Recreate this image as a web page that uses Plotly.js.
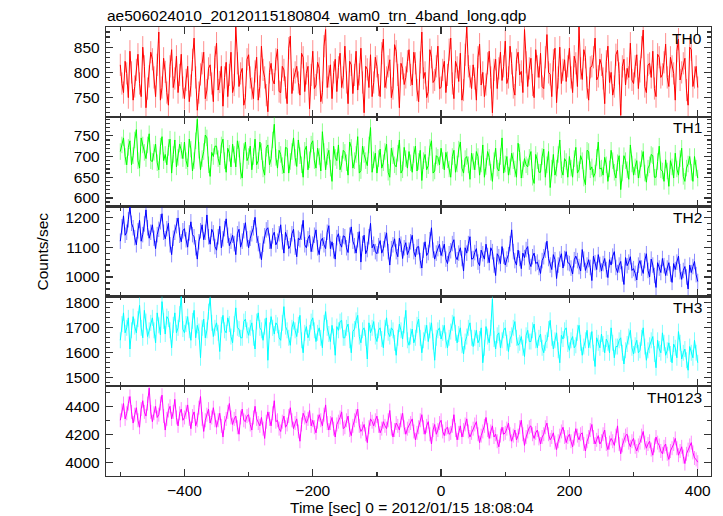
<!DOCTYPE html>
<html>
<head>
<meta charset="utf-8">
<script src="https://cdn.plot.ly/plotly-3.0.1.min.js"></script>
<style>html,body{margin:0;padding:0;background:#fff;}#chart{width:723px;height:516px;}</style>
</head>
<body>
<div id="chart"></div>
<script>
// Time [sec] relative to 2012/01/15 18:08:04 — bins on whole 5 s marks
const timeSec = [
-500,-495,-490,-485,-480,-475,-470,-465,-460,-455,
-450,-445,-440,-435,-430,-425,-420,-415,-410,-405,
-400,-395,-390,-385,-380,-375,-370,-365,-360,-355,
-350,-345,-340,-335,-330,-325,-320,-315,-310,-305,
-300,-295,-290,-285,-280,-275,-270,-265,-260,-255,
-250,-245,-240,-235,-230,-225,-220,-215,-210,-205,
-200,-195,-190,-185,-180,-175,-170,-165,-160,-155,
-150,-145,-140,-135,-130,-125,-120,-115,-110,-105,
-100,-95,-90,-85,-80,-75,-70,-65,-60,-55,
-50,-45,-40,-35,-30,-25,-20,-15,-10,-5,
0,5,10,15,20,25,30,35,40,45,
50,55,60,65,70,75,80,85,90,95,
100,105,110,115,120,125,130,135,140,145,
150,155,160,165,170,175,180,185,190,195,
200,205,210,215,220,225,230,235,240,245,
250,255,260,265,270,275,280,285,290,295,
300,305,310,315,320,325,330,335,340,345,
350,355,360,365,370,375,380,385,390,395,
400];
// bins half-way between them
const timeHalf = [
-497.5,-492.5,-487.5,-482.5,-477.5,-472.5,-467.5,-462.5,-457.5,-452.5,
-447.5,-442.5,-437.5,-432.5,-427.5,-422.5,-417.5,-412.5,-407.5,-402.5,
-397.5,-392.5,-387.5,-382.5,-377.5,-372.5,-367.5,-362.5,-357.5,-352.5,
-347.5,-342.5,-337.5,-332.5,-327.5,-322.5,-317.5,-312.5,-307.5,-302.5,
-297.5,-292.5,-287.5,-282.5,-277.5,-272.5,-267.5,-262.5,-257.5,-252.5,
-247.5,-242.5,-237.5,-232.5,-227.5,-222.5,-217.5,-212.5,-207.5,-202.5,
-197.5,-192.5,-187.5,-182.5,-177.5,-172.5,-167.5,-162.5,-157.5,-152.5,
-147.5,-142.5,-137.5,-132.5,-127.5,-122.5,-117.5,-112.5,-107.5,-102.5,
-97.5,-92.5,-87.5,-82.5,-77.5,-72.5,-67.5,-62.5,-57.5,-52.5,
-47.5,-42.5,-37.5,-32.5,-27.5,-22.5,-17.5,-12.5,-7.5,-2.5,
2.5,7.5,12.5,17.5,22.5,27.5,32.5,37.5,42.5,47.5,
52.5,57.5,62.5,67.5,72.5,77.5,82.5,87.5,92.5,97.5,
102.5,107.5,112.5,117.5,122.5,127.5,132.5,137.5,142.5,147.5,
152.5,157.5,162.5,167.5,172.5,177.5,182.5,187.5,192.5,197.5,
202.5,207.5,212.5,217.5,222.5,227.5,232.5,237.5,242.5,247.5,
252.5,257.5,262.5,267.5,272.5,277.5,282.5,287.5,292.5,297.5,
302.5,307.5,312.5,317.5,322.5,327.5,332.5,337.5,342.5,347.5,
352.5,357.5,362.5,367.5,372.5,377.5,382.5,387.5,392.5,397.5];

const th0 = [
815,760,798,842,745,805,778,850,730,792,
826,752,880,770,801,735,845,788,760,836,
748,812,774,868,725,796,840,765,815,742,
858,781,733,820,795,760,890,772,808,750,
835,768,802,745,852,790,722,818,777,846,
760,805,738,872,786,812,755,830,798,728,
842,775,808,760,885,792,748,826,810,770,
852,738,815,795,765,848,720,806,835,780,
812,752,866,790,825,768,842,730,808,790,
845,775,818,742,880,800,762,830,785,852,
770,822,795,868,748,810,838,765,890,792,
815,745,856,800,776,842,720,826,808,784,
862,790,818,755,840,802,885,772,828,750,
812,838,768,875,796,824,740,850,805,782,
848,760,818,890,786,830,745,812,868,792,
815,738,852,800,772,844,715,826,808,858,
778,835,802,884,760,818,842,752,830,796,
856,772,812,745,866,800,828,735,845,790,
770];
const th0Half = [
778,822,750,800,772,836,752,812,768,840,
790,815,745,828,760,812,770,832,795,770,
785,742,825,790,760,818,748,808,778,830,
765,812,790,752,840,775,818,798,735,826,
790,748,830,772,805,755,800,785,826,762,
812,770,848,758,800,780,838,762,812,795,
768,820,742,852,770,815,800,762,838,790,
780,822,758,842,796,780,812,770,752,830,
775,838,770,812,750,855,795,818,776,822,
795,840,765,820,788,750,845,780,812,768,
805,760,845,778,822,782,745,835,812,768,
788,830,775,752,818,790,805,768,840,812,
778,852,770,825,795,760,820,808,775,845,
790,772,830,800,752,848,790,778,825,812,
790,832,772,808,845,770,810,830,785,826,
788,822,780,755,835,798,812,775,790,785,
812,768,850,772,815,790,768,836,790,820,
790,830,798,842,785,818,765,850,772,812];

const th1 = [
712,745,680,738,702,765,672,728,695,755,
688,730,668,748,705,722,660,740,698,715,
735,675,718,690,790,668,712,745,652,700,
725,680,742,662,708,730,675,718,648,735,
700,668,742,690,712,655,728,695,778,672,
705,660,720,688,745,676,702,650,725,692,
738,672,700,760,668,715,640,698,728,682,
710,655,722,690,748,666,705,678,770,692,
660,718,685,730,650,702,675,740,668,695,
712,662,725,688,642,705,678,738,665,698,
720,668,692,650,715,682,735,660,700,645,
688,712,655,728,676,698,640,720,665,745,
682,655,708,670,732,648,695,675,712,635,
690,662,718,680,625,705,672,740,655,688,
700,650,722,668,690,632,712,675,660,735,
672,698,640,715,662,685,620,702,668,728,
655,690,668,712,638,680,702,650,725,665,
692,628,675,708,655,720,640,682,662,700,
648];
const th1Half = [
728,700,722,680,740,690,745,710,728,690,
710,685,725,690,680,742,705,675,730,695,
690,742,665,738,715,695,752,680,710,725,
695,728,690,720,675,705,738,665,712,690,
725,700,680,735,670,720,680,740,698,715,
678,722,660,712,698,740,680,715,668,730,
690,720,665,712,700,672,725,690,668,715,
685,735,672,705,660,725,690,728,662,708,
695,672,712,662,720,680,708,660,722,672,
685,705,665,715,690,668,722,660,702,680,
690,710,670,700,662,718,672,695,680,708,
668,700,682,650,712,662,690,672,700,660,
700,675,690,650,710,668,680,698,650,705,
662,700,650,712,672,655,705,668,695,650,
672,695,660,702,648,715,668,650,698,670,
655,680,670,690,648,702,660,690,645,682,
675,648,695,660,672,705,650,688,668,640,
665,690,648,670,695,652,672,700,640,672];

const th2 = [
1120,1205,1150,1236,1165,1108,1190,1142,1225,1130,
1175,1095,1160,1212,1128,1180,1075,1150,1198,1118,
1162,1100,1185,1135,1060,1155,1125,1208,1110,1148,
1090,1170,1128,1195,1105,1140,1075,1160,1120,1182,
1098,1145,1200,1112,1058,1138,1165,1095,1150,1120,
1175,1080,1132,1105,1160,1068,1125,1190,1098,1140,
1110,1158,1075,1130,1095,1172,1118,1060,1145,1100,
1135,1082,1168,1105,1125,1050,1140,1092,1180,1110,
1078,1122,1095,1148,1040,1108,1085,1130,1062,1115,
1090,1140,1068,1102,1030,1118,1082,1165,1060,1095,
1072,1110,1045,1088,1125,1058,1098,1020,1080,1135,
1062,1095,1038,1078,1110,1048,1085,1005,1068,1102,
1040,1075,1158,1055,1090,1028,1065,1102,1035,1080,
1050,1012,1068,1120,1040,1075,995,1060,1030,1085,
1045,1010,1070,1035,1092,1022,1058,988,1048,1075,
1020,1062,998,1040,1085,1015,1052,975,1038,1068,
1028,990,1055,1012,1078,1000,1040,965,1030,1062,
1005,1048,982,1025,1070,992,1035,960,1015,1052,
985];
const th2Half = [
1168,1140,1192,1180,1132,1155,1120,1178,1165,1150,
1130,1142,1185,1150,1162,1108,1130,1172,1140,1155,
1125,1148,1142,1098,1118,1175,1150,1135,1160,1102,
1135,1098,1162,1140,1120,1112,1145,1100,1155,1128,
1130,1165,1140,1088,1110,1158,1120,1138,1108,1145,
1118,1150,1095,1145,1100,1130,1150,1108,1128,1085,
1140,1098,1120,1108,1150,1095,1088,1132,1112,1138,
1098,1140,1120,1080,1152,1112,1078,1135,1098,1085,
1105,1080,1125,1085,1095,1128,1068,1110,1098,1075,
1118,1085,1100,1055,1090,1072,1125,1090,1080,1110,
1095,1060,1078,1112,1070,1080,1062,1098,1112,1060,
1082,1050,1090,1060,1072,1098,1040,1078,1045,1070,
1060,1112,1085,1040,1062,1080,1092,1050,1068,1045,
1032,1055,1090,1062,1025,1058,1040,1078,1062,1048,
1030,1058,1055,1020,1060,1040,1032,1070,1025,1042,
1045,1025,1058,1070,1032,1040,1010,1065,1050,1022,
1012,1040,1030,1055,1022,1060,1005,1048,1015,1038,
1030,1010,1045,1050,1018,1022,1000,1040,1035,1008];

const th3 = [
1650,1760,1700,1615,1745,1680,1790,1660,1725,1690,
1740,1640,1710,1805,1675,1735,1620,1760,1700,1826,
1680,1745,1650,1770,1710,1580,1735,1690,1820,1665,
1720,1605,1750,1680,1715,1640,1780,1695,1660,1735,
1670,1720,1615,1760,1690,1705,1570,1745,1675,1710,
1650,1785,1690,1630,1725,1665,1750,1600,1705,1680,
1740,1645,1700,1620,1765,1675,1710,1590,1690,1730,
1660,1715,1600,1695,1750,1640,1700,1575,1680,1725,
1645,1700,1620,1740,1665,1690,1590,1715,1655,1770,
1630,1695,1660,1735,1600,1680,1645,1720,1570,1690,
1655,1710,1620,1685,1745,1640,1700,1595,1665,1720,
1625,1690,1655,1560,1705,1640,1815,1615,1680,1650,
1700,1605,1670,1725,1630,1665,1585,1690,1645,1715,
1620,1675,1600,1650,1730,1615,1680,1560,1655,1700,
1610,1665,1630,1710,1590,1650,1620,1685,1545,1640,
1675,1600,1640,1700,1580,1625,1660,1555,1635,1690,
1595,1650,1610,1700,1570,1630,1665,1540,1615,1680,
1590,1640,1560,1620,1685,1575,1615,1530,1600,1650,
1560];
const th3Half = [
1715,1680,1740,1690,1705,1735,1700,1770,1665,1720,
1690,1760,1672,1728,1745,1690,1712,1680,1755,1695,
1715,1690,1728,1660,1685,1700,1660,1765,1720,1700,
1680,1712,1690,1740,1665,1715,1700,1660,1725,1690,
1700,1660,1725,1700,1650,1740,1690,1700,1720,1660,
1720,1705,1660,1700,1690,1712,1650,1680,1660,1725,
1690,1680,1660,1720,1700,1645,1665,1705,1725,1660,
1700,1650,1685,1730,1665,1690,1660,1720,1700,1665,
1690,1655,1700,1680,1700,1640,1660,1690,1710,1650,
1665,1640,1712,1660,1650,1710,1690,1645,1660,1700,
1680,1650,1660,1720,1680,1675,1630,1645,1700,1660,
1660,1640,1700,1620,1665,1700,1655,1670,1620,1690,
1640,1655,1700,1660,1640,1620,1670,1645,1690,1650,
1660,1620,1640,1695,1660,1650,1610,1670,1690,1635,
1650,1620,1680,1640,1625,1690,1650,1600,1660,1620,
1635,1655,1600,1640,1625,1650,1600,1610,1665,1620,
1630,1600,1660,1625,1610,1650,1595,1650,1600,1640,
1610,1595,1635,1580,1640,1600,1570,1625,1580,1600];

const th0123 = [
4300,4420,4350,4470,4280,4390,4250,4440,4330,4530,
4290,4400,4340,4480,4230,4370,4310,4450,4260,4380,
4320,4410,4240,4360,4300,4470,4220,4340,4280,4390,
4250,4350,4180,4310,4420,4270,4330,4200,4380,4290,
4340,4230,4400,4280,4320,4170,4360,4260,4440,4300,
4220,4330,4270,4390,4240,4310,4150,4350,4280,4370,
4300,4210,4340,4260,4410,4230,4320,4180,4290,4360,
4250,4330,4190,4300,4380,4220,4270,4140,4310,4260,
4330,4210,4290,4240,4370,4180,4280,4230,4350,4200,
4260,4310,4160,4250,4340,4200,4290,4130,4270,4230,
4300,4190,4250,4210,4340,4160,4260,4230,4310,4180,
4240,4290,4140,4220,4320,4170,4260,4200,4110,4250,
4210,4280,4150,4230,4190,4300,4120,4220,4260,4170,
4230,4130,4200,4280,4160,4210,4090,4190,4250,4140,
4200,4110,4240,4160,4210,4080,4180,4270,4130,4190,
4150,4230,4090,4170,4120,4260,4060,4160,4200,4110,
4170,4080,4140,4220,4100,4150,4050,4180,4120,4060,
4130,4020,4100,4170,4050,4110,3990,4090,4140,4030,
4000];
const th0123Half = [
4370,4310,4420,4360,4340,4300,4380,4360,4420,4360,
4350,4320,4420,4330,4310,4400,4360,4320,4350,4300,
4360,4310,4330,4260,4390,4310,4300,4380,4320,4300,
4300,4260,4280,4360,4320,4310,4250,4320,4300,4330,
4270,4320,4310,4260,4240,4290,4310,4350,4290,4240,
4290,4250,4330,4300,4280,4220,4270,4320,4310,4260,
4250,4290,4300,4340,4280,4280,4240,4270,4320,4240,
4300,4230,4260,4330,4260,4240,4200,4250,4290,4300,
4260,4240,4260,4300,4240,4230,4260,4300,4250,4240,
4280,4220,4210,4300,4250,4260,4200,4230,4200,4280,
4220,4240,4200,4260,4230,4210,4180,4270,4220,4210,
4270,4200,4190,4260,4230,4220,4180,4150,4190,4200,
4240,4200,4190,4160,4250,4200,4180,4250,4200,4210,
4170,4180,4250,4200,4180,4140,4150,4220,4180,4180,
4150,4170,4190,4200,4130,4150,4230,4180,4160,4130,
4200,4130,4140,4150,4190,4130,4120,4190,4140,4150,
4110,4120,4190,4140,4130,4090,4120,4140,4080,4110,
4060,4080,4130,4100,4080,4040,4060,4120,4070,4020];

const bandNames = ["TH0", "TH1", "TH2", "TH3", "TH0123"];
const bandSeries = [th0, th1, th2, th3, th0123];
const bandHalfSeries = [th0Half, th1Half, th2Half, th3Half, th0123Half];
const bandErrors = [22, 20, 26, 32, 50];   // 1-sigma error bar per bin (counts/sec)
const bandColors = ["#ff0000", "#00ff00", "#0000ff", "#00ffff", "#ff00ff"];
const bandErrColors = ["rgba(255,0,0,0.45)", "rgba(0,255,0,0.45)", "rgba(0,0,255,0.45)", "rgba(0,255,255,0.5)", "rgba(255,0,255,0.45)"];
const yRanges = [[712, 890], [579, 796], [935, 1236], [1466, 1826], [3901, 4544]];
const yMajor = [50, 50, 100, 100, 200];
const yMinor = [10, 10, 20, 20, 100];

const titleText = "ae506024010_20120115180804_wam0_trn_4band_long.qdp";
const xTitleText = "Time [sec] 0 = 2012/01/15 18:08:04";
const yTitleText = "Counts/sec";

const FONT = "Liberation Sans, Arial, Helvetica, sans-serif";
const FS = 15.5;
const AXC = "#333333";

// merge whole-mark and half-mark bins into one time-ordered series
function mergeBins(tA, yA, tB, yB) {
  const xs = [], ys = [];
  for (let j = 0; j < tA.length; j++) {
    xs.push(tA[j]); ys.push(yA[j]);
    if (j < tB.length) { xs.push(tB[j]); ys.push(yB[j]); }
  }
  return {xs, ys};
}

const traces = [];
const layout = {
  width: 723, height: 516,
  margin: {l: 106, r: 12, t: 27, b: 40},
  paper_bgcolor: "#ffffff", plot_bgcolor: "#ffffff",
  showlegend: false,
  font: {family: FONT, size: FS, color: "#000"},
  title: {text: titleText, x: 107/723, xanchor: "left", xref: "container",
          y: 1 - 15.5/516, yanchor: "middle", yref: "container",
          font: {family: FONT, size: FS, color: "#000"}},
  annotations: []
};

const n = bandSeries.length;
for (let i = 0; i < n; i++) {
  const k = i + 1;
  const sfx = k === 1 ? "" : String(k);
  const m = mergeBins(timeSec, bandSeries[i], timeHalf, bandHalfSeries[i]);
  traces.push({
    x: m.xs, y: m.ys, type: "scatter", mode: "lines",
    line: {color: bandColors[i], width: 1},
    error_y: {type: "constant", value: bandErrors[i], color: bandErrColors[i], thickness: 1, width: 0},
    xaxis: "x" + sfx, yaxis: "y" + sfx, hoverinfo: "skip", cliponaxis: true
  });
  const top = 1 - i / n, bot = 1 - (i + 1) / n;
  layout["xaxis" + sfx] = {
    domain: [0, 1], anchor: "y" + sfx, range: [-522.3, 420.7],
    matches: k === 1 ? undefined : "x",
    showgrid: false, zeroline: false,
    showline: true, linecolor: AXC, linewidth: 1.2, mirror: "ticks",
    ticks: "inside", ticklen: 7, tickwidth: 1.2, tickcolor: AXC,
    tick0: 0, dtick: 200,
    minor: {dtick: 100, ticklen: 4, tickwidth: 1.2, tickcolor: AXC, ticks: "inside", showgrid: false},
    showticklabels: k === n,
    tickfont: {family: FONT, size: FS, color: "#000"}
  };
  layout["yaxis" + sfx] = {
    domain: [bot, top], anchor: "x" + sfx, range: yRanges[i],
    showgrid: false, zeroline: false,
    showline: true, linecolor: AXC, linewidth: 1.2, mirror: "ticks",
    ticks: "inside", ticklen: 7, tickwidth: 1.2, tickcolor: AXC,
    tick0: 0, dtick: yMajor[i],
    minor: {dtick: yMinor[i], ticklen: 4, tickwidth: 1.2, tickcolor: AXC, ticks: "inside", showgrid: false},
    tickfont: {family: FONT, size: FS, color: "#000"},
    ticklabelstandoff: 2
  };
  layout.annotations.push({
    text: bandNames[i], xref: "paper", yref: "paper",
    x: (704 - 106) / 605, xanchor: "right",
    y: top - 11 / 449, yanchor: "middle",
    showarrow: false, font: {family: FONT, size: FS, color: "#000"}
  });
}
layout.annotations.push({
  text: yTitleText, xref: "paper", yref: "paper", x: (42 - 106) / 605, y: 0.5,
  xanchor: "center", yanchor: "middle", textangle: -90, showarrow: false,
  font: {family: FONT, size: FS, color: "#000"}
});
layout.annotations.push({
  text: xTitleText, xref: "paper", yref: "paper", x: (412 - 106) / 605, y: (476 - 507) / 449,
  xanchor: "center", yanchor: "middle", showarrow: false,
  font: {family: FONT, size: FS, color: "#000"}
});

Plotly.newPlot("chart", traces, layout, {staticPlot: true, displayModeBar: false});
</script>
</body>
</html>
